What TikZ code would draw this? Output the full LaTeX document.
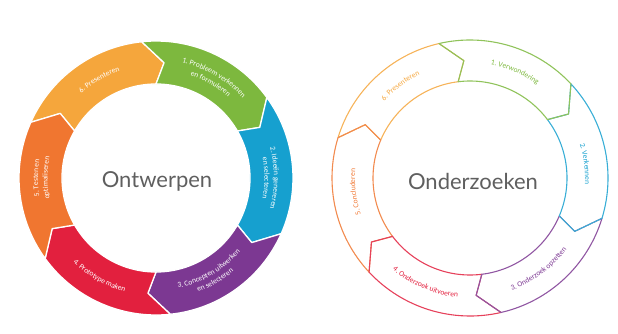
\documentclass[tikz,border=0pt]{standalone}
\usepackage{fontspec}
\newfontfamily\segfont{Carlito}
\newfontfamily\handfont{Lato}
\usetikzlibrary{decorations.text}
\definecolor{cgreen}{RGB}{125,184,62}
\definecolor{cblue}{RGB}{22,160,207}
\definecolor{cpurple}{RGB}{124,56,146}
\definecolor{cred}{RGB}{226,32,62}
\definecolor{corange}{RGB}{240,118,48}
\definecolor{cyellow}{RGB}{245,166,60}
\definecolor{cgrey}{RGB}{95,95,95}
% #1 style, #2 R, #3 r, #4 Rm, #5 start angle, #6 end angle (clockwise)
\newcommand\ringseg[6]{%
  \path[#1] ({#5+3}:#2pt) arc[start angle={#5+3}, end angle={#6+3}, radius=#2pt]
    -- ({#6-7}:#4pt) -- ({#6-3}:#3pt)
    arc[start angle={#6-3}, end angle={#5-3}, radius=#3pt]
    -- ({#5-7}:#4pt) -- cycle;}
% #1 colour, #2 font size, #3 radius, #4 mid angle, #5 text
\newcommand\cwtext[5]{%
  \path[decorate, decoration={text along path, text align=center,
    text={|\segfont\fontsize{#2}{#2}\selectfont\color{#1}|#5}}]
    ({#4+40}:#3pt) arc[start angle={#4+40}, end angle={#4-40}, radius=#3pt];}
\newcommand\ccwtext[5]{%
  \path[decorate, decoration={text along path, text align=center,
    text={|\segfont\fontsize{#2}{#2}\selectfont\color{#1}|#5}}]
    ({#4-40}:#3pt) arc[start angle={#4-40}, end angle={#4+40}, radius=#3pt];}
\tikzset{
  fillseg/.style={fill=#1, draw=white, line width=1.3pt, line join=round},
  lineseg/.style={draw=#1!85, line width=1.1pt, line join=round},
  centrelabel/.style={font=\handfont\fontsize{22}{24}\selectfont, text=cgrey}
}
\begin{document}
\begin{tikzpicture}
\useasboundingbox (0pt,0pt) rectangle (618pt,333pt);
% ---------- Ontwerpen ----------
\begin{scope}[shift={(156pt,155pt)}]
  \ringseg{fillseg=cyellow}{137}{94}{115.5}{153}{93}
  \ringseg{fillseg=cgreen}{137}{94}{115.5}{93}{33}
  \ringseg{fillseg=cblue}{137}{94}{115.5}{33}{-27}
  \ringseg{fillseg=cpurple}{137}{94}{115.5}{-27}{-87}
  \ringseg{fillseg=cred}{137}{94}{115.5}{-87}{-147}
  \ringseg{fillseg=corange}{137}{94}{115.5}{-147}{-207}
  \cwtext{white}{7.5}{118}{60}{1. Probleem verkennen}
  \cwtext{white}{7.5}{108.5}{60}{en formuleren}
  \cwtext{white}{7.5}{118}{0}{2. Ideeën genereren}
  \cwtext{white}{7.5}{108.5}{0}{en selecteren}
  \ccwtext{white}{7.5}{112}{-60}{3. Concepten uitwerken}
  \ccwtext{white}{7.5}{121.5}{-60}{en selecteren}
  \ccwtext{white}{7.5}{118}{-120}{4. Prototype maken}
  \cwtext{white}{7.5}{118}{180}{5. Testen en}
  \cwtext{white}{7.5}{108.5}{180}{optimaliseren}
  \cwtext{white}{7.5}{113}{120}{6. Presenteren}
  \node[centrelabel] (ontwerpen) at (1pt,-3pt) {Ontwerpen};
\end{scope}
% ---------- Onderzoeken ----------
\begin{scope}[shift={(470pt,155pt)}]
  \ringseg{lineseg=cyellow}{138}{97}{117.5}{160}{100}
  \ringseg{lineseg=corange}{138}{97}{117.5}{-140}{-200}
  \ringseg{lineseg=cred}{138}{97}{117.5}{-80}{-140}
  \ringseg{lineseg=cpurple}{138}{97}{117.5}{-20}{-80}
  \ringseg{lineseg=cblue}{138}{97}{117.5}{40}{-20}
  \ringseg{lineseg=cgreen}{138}{97}{117.5}{100}{40}
  \cwtext{cgreen}{7.5}{115}{67}{1. Verwondering}
  \cwtext{cblue}{7.5}{115}{7}{2. Verkennen}
  \ccwtext{cpurple}{7.5}{120}{-53}{3. Onderzoek opzetten}
  \ccwtext{cred}{7.5}{120}{-113}{4. Onderzoek uitvoeren}
  \cwtext{corange}{7.5}{115}{187}{5. Concluderen}
  \cwtext{cyellow}{7.5}{115}{127}{6. Presenteren}
  \node[centrelabel] (onderzoeken) at (3pt,-3pt) {Onderzoeken};
\end{scope}
\end{tikzpicture}
\end{document}
